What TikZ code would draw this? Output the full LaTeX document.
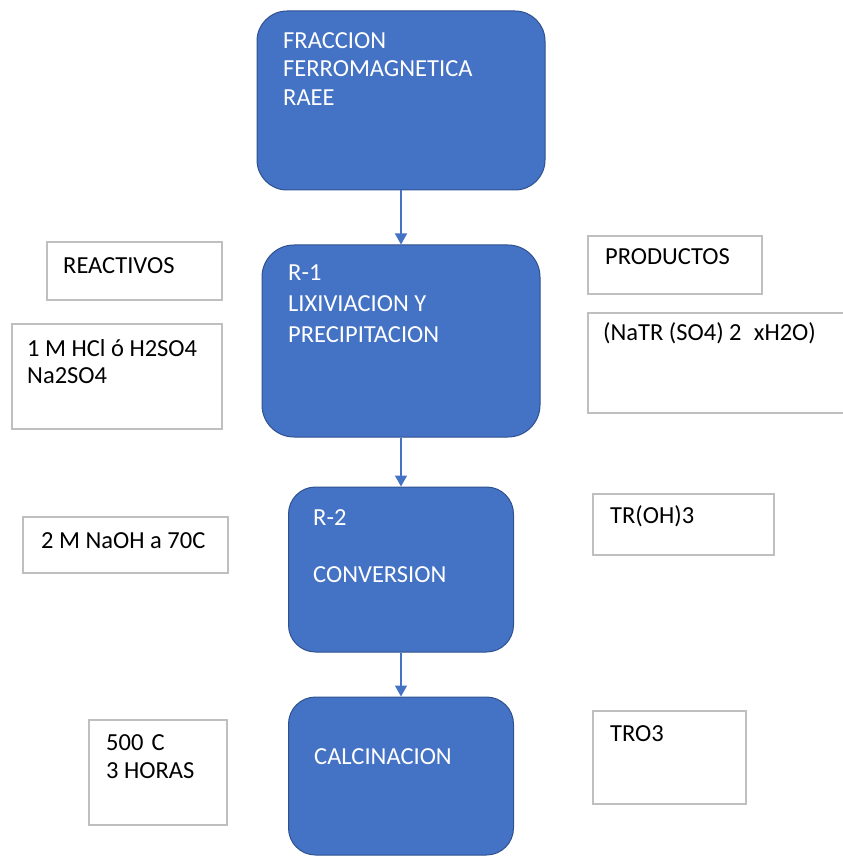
\documentclass[tikz,border=0pt]{standalone}
\usepackage{fontspec}
\setmainfont{Carlito}
\usetikzlibrary{arrows.meta}
\definecolor{boxblue}{HTML}{4472C4}
\definecolor{boxedge}{HTML}{2F528F}
\definecolor{lightedge}{HTML}{BFBFBF}
\tikzset{
  bluebox/.style={draw=boxedge, fill=boxblue, line width=1pt, inner sep=0pt},
  whitebox/.style={draw=lightedge, fill=white, line width=1.4pt, inner sep=0pt},
  wtext/.style={anchor=base west, inner sep=0pt, text=white, font=\fontsize{24.5}{28}\selectfont, align=left},
  btext/.style={anchor=base west, inner sep=0pt, text=black, font=\fontsize{24.5}{28}\selectfont, align=left},
  flow/.style={draw=boxblue, line width=1.4pt, -{Triangle[width=12pt,length=11pt]}}
}
\begin{document}
\begin{tikzpicture}[x=1pt,y=-1pt]
\useasboundingbox (0,0) rectangle (842,858);
% blue process boxes
\node[bluebox, rounded corners=30pt, minimum width=288pt, minimum height=179pt] (b1) at (401,100.5) {};
\node[bluebox, rounded corners=32pt, minimum width=278pt, minimum height=192pt] (b2) at (401,341) {};
\node[bluebox, rounded corners=27pt, minimum width=225pt, minimum height=165pt] (b3) at (401,569.5) {};
\node[bluebox, rounded corners=27pt, minimum width=225pt, minimum height=158pt] (b4) at (401,776) {};
% texts in blue boxes
\node[wtext] (t1a) at (283,49) {FRACCION};
\node[wtext] (t1b) at (283,77) {FERROMAGNETICA};
\node[wtext] (t1c) at (283,106) {RAEE};
\node[wtext] (t2a) at (288,280) {R-1};
\node[wtext] (t2b) at (288,311) {LIXIVIACION Y};
\node[wtext] (t2c) at (288,342) {PRECIPITACION};
\node[wtext] (t3a) at (313,525) {R-2};
\node[wtext] (t3b) at (313,582) {CONVERSION};
\node[wtext] (t4a) at (314,764) {CALCINACION};
% arrows
\draw[flow] (b1.south) -- (b2.north);
\draw[flow] (b2.south) -- (b3.north);
\draw[flow] (b3.south) -- (b4.north);
% left boxes
\node[whitebox, minimum width=175pt, minimum height=58pt] (r0) at (134.5,271) {};
\node[btext] (r0t) at (63,273) {REACTIVOS};
\node[whitebox, minimum width=210pt, minimum height=105pt] (r1) at (117,376.5) {};
\node[btext] (r1a) at (27,356) {1 M HCl ó H2SO4};
\node[btext] (r1b) at (27,383) {Na2SO4};
\node[whitebox, minimum width=205pt, minimum height=56pt] (r2) at (125.5,545) {};
\node[btext] (r2t) at (41,548) {2 M NaOH a 70C};
\node[whitebox, minimum width=138pt, minimum height=105pt] (r3) at (158,772.5) {};
\node[btext] (r3a) at (106,750) {500\,\,C};
\node[btext] (r3b) at (106,778) {3 HORAS};
% right boxes
\node[whitebox, minimum width=174pt, minimum height=58pt] (p0) at (675,265) {};
\node[btext] (p0t) at (605,265) {PRODUCTOS};
\node[whitebox, minimum width=270pt, minimum height=100pt] (p1) at (723,363) {};
\node[btext] (p1t) at (603,340) {(NaTR (SO4) 2\enspace xH2O)};
\node[whitebox, minimum width=181pt, minimum height=61pt] (p2) at (683.5,524.5) {};
\node[btext] (p2t) at (610,523) {TR(OH)3};
\node[whitebox, minimum width=153pt, minimum height=93pt] (p3) at (669.5,757.5) {};
\node[btext] (p3t) at (610,741) {TRO3};
\end{tikzpicture}
\end{document}
